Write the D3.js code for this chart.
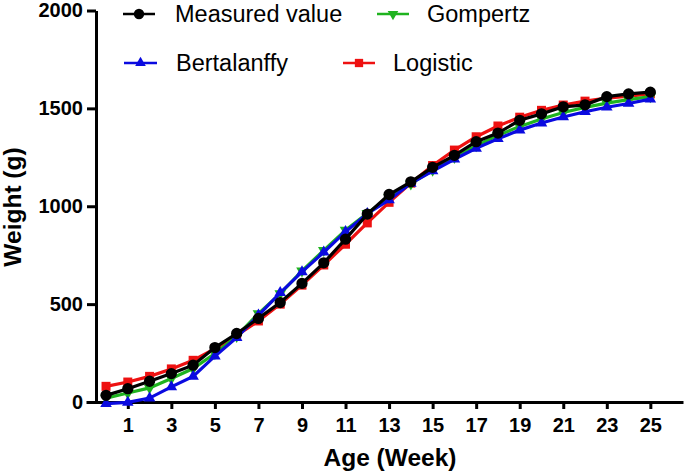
<!DOCTYPE html>
<html>
<head>
<meta charset="utf-8">
<script src="https://cdn.jsdelivr.net/npm/d3@7"></script>
<style>
  body { margin: 0; background: #fff; }
  text { font-family: "Liberation Sans", Arial, sans-serif; }
</style>
</head>
<body>
<script>
// Données
const weeks = d3.range(0, 26)
const measured = [34, 68, 106, 145, 188, 278, 350, 427, 508, 606, 711, 832, 960, 1060, 1125, 1199, 1260, 1330, 1374, 1439, 1472, 1508, 1518, 1560, 1574, 1583]
const gompertz = [20, 46, 72, 120, 171, 248, 336, 452, 554, 670, 775, 878, 964, 1045, 1115, 1185, 1250, 1310, 1362, 1408, 1446, 1479, 1505, 1527, 1545, 1560]
const bertalanffy = [-8, -2, 20, 77, 131, 234, 329, 443, 558, 665, 765, 870, 962, 1032, 1117, 1180, 1240, 1296, 1345, 1389, 1425, 1456, 1483, 1506, 1525, 1547]
const logistic = [80, 102, 131, 169, 213, 272, 340, 414, 500, 597, 700, 806, 915, 1020, 1118, 1208, 1287, 1355, 1410, 1455, 1490, 1517, 1537, 1552, 1563, 1574]

const xTicks = [1, 3, 5, 7, 9, 11, 13, 15, 17, 19, 21, 23, 25]
const yTicks = [0, 500, 1000, 1500, 2000]

const width = 687, height = 475

const svg = d3.select('body').append('svg')
    .attr('width', width)
    .attr('height', height)

// Echelles
const x = d3.scaleLinear().domain([-0.92, 26.5]).range([86, 683])
const y = d3.scaleLinear().domain([0, 2000]).range([402, 10.5])

// Axe X
const xAxis = svg.append('g')
    .attr('transform', `translate(0, ${y(0)})`)
    .call(d3.axisBottom(x).tickValues(xTicks).tickFormat(d3.format('d')).tickSize(7).tickSizeOuter(0).tickPadding(9))
xAxis.select('.domain').attr('stroke-width', 3)
xAxis.selectAll('.tick line').attr('stroke-width', 3)
xAxis.selectAll('text')
    .attr('font-size', 20)
    .attr('font-weight', 'bold')
    .attr('fill', '#000')
    .style('font-family', '"Liberation Sans", Arial, sans-serif')

// Axe Y
const yAxis = svg.append('g')
    .attr('transform', 'translate(96, 0)')
    .call(d3.axisLeft(y).tickValues(yTicks).tickFormat(d3.format('d')).tickSize(9).tickSizeOuter(0).tickPadding(4))
yAxis.select('.domain').attr('stroke-width', 3)
yAxis.selectAll('.tick line').attr('stroke-width', 3)
yAxis.selectAll('text')
    .attr('font-size', 20)
    .attr('font-weight', 'bold')
    .attr('fill', '#000')
    .style('font-family', '"Liberation Sans", Arial, sans-serif')

// Titres des axes
svg.append('text')
    .attr('x', 390)
    .attr('y', 466)
    .attr('text-anchor', 'middle')
    .attr('font-size', 24.5)
    .attr('font-weight', 'bold')
    .text('Age (Week)')

svg.append('text')
    .attr('transform', 'translate(21, 207) rotate(-90)')
    .attr('text-anchor', 'middle')
    .attr('font-size', 24.5)
    .attr('font-weight', 'bold')
    .text('Weight (g)')

// Séries (ordre de dessin : rouge, vert, bleu, noir)
const series = [
    { name: 'Logistic', values: logistic, color: '#ee1111', symbol: d3.symbolSquare, size: 81, rot: 0 },
    { name: 'Gompertz', values: gompertz, color: '#1fb31f', symbol: d3.symbolTriangle, size: 58, rot: 180 },
    { name: 'Bertalanffy', values: bertalanffy, color: '#0a0ae0', symbol: d3.symbolTriangle, size: 58, rot: 0 },
    { name: 'Measured value', values: measured, color: '#000000', symbol: d3.symbolCircle, size: 100, rot: 0 }
]

const line = d3.line()
    .x((d, i) => x(weeks[i]))
    .y(d => y(d))

series.forEach(s => {
    const g = svg.append('g')
    g.append('path')
        .attr('d', line(s.values))
        .attr('fill', 'none')
        .attr('stroke', s.color)
        .attr('stroke-width', 3.2)

    g.selectAll('path.pt')
        .data(s.values)
        .join('path')
        .attr('class', 'pt')
        .attr('d', d3.symbol().type(s.symbol).size(s.size))
        .attr('transform', (d, i) => `translate(${x(weeks[i])}, ${y(d)}) rotate(${s.rot})`)
        .attr('fill', s.color)
})

// Légende
const legendItems = [
    { s: series[3], x1: 123, x2: 155, tx: 175, cy: 14 },
    { s: series[1], x1: 377, x2: 409, tx: 427, cy: 14 },
    { s: series[2], x1: 124, x2: 157, tx: 176, cy: 63 },
    { s: series[0], x1: 343, x2: 375, tx: 393, cy: 63 }
]

legendItems.forEach(it => {
    const g = svg.append('g')
    g.append('line')
        .attr('x1', it.x1)
        .attr('x2', it.x2)
        .attr('y1', it.cy)
        .attr('y2', it.cy)
        .attr('stroke', it.s.color)
        .attr('stroke-width', 2.5)
    g.append('path')
        .attr('d', d3.symbol().type(it.s.symbol).size(it.s.size * 0.85))
        .attr('transform', `translate(${(it.x1 + it.x2) / 2}, ${it.cy}) rotate(${it.s.rot})`)
        .attr('fill', it.s.color)
    g.append('text')
        .attr('x', it.tx)
        .attr('y', it.cy + 8.3)
        .attr('font-size', 23.5)
        .text(it.s.name)
})
</script>
</body>
</html>
